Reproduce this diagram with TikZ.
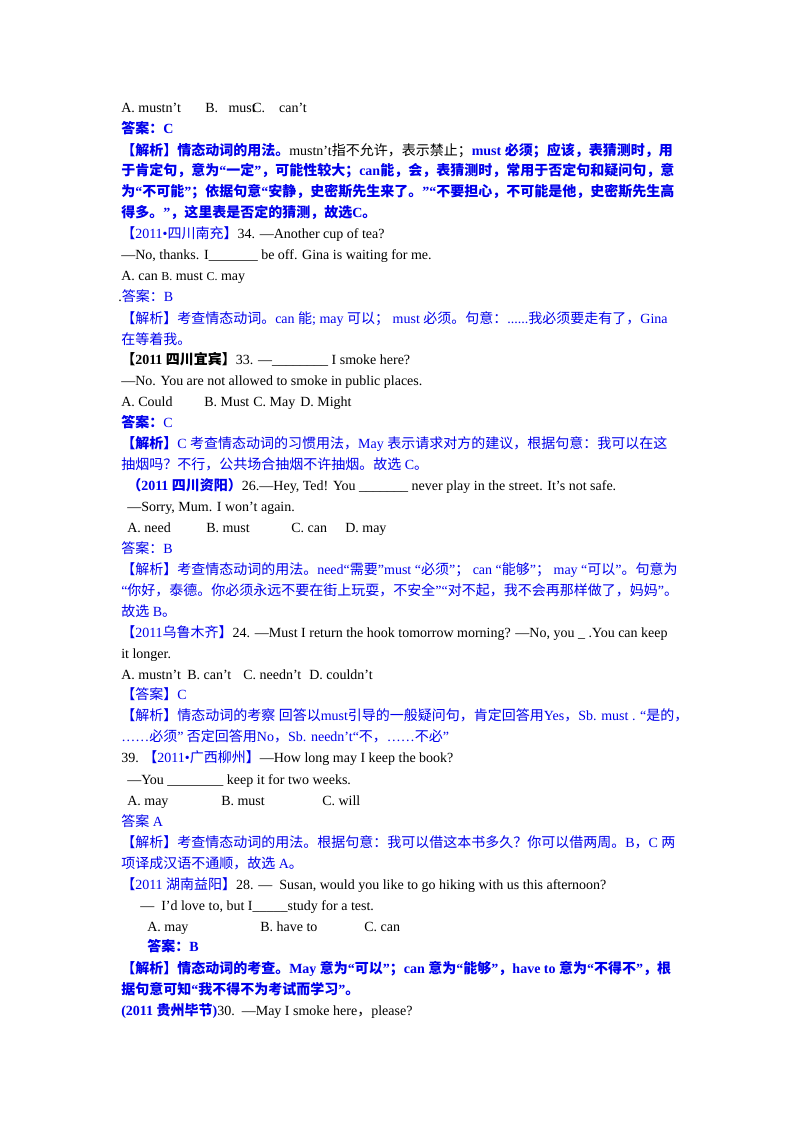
\documentclass[tikz,border=0pt]{standalone}
\usepackage{fontspec}
\setmainfont{Liberation Serif}
\newfontfamily\cjk{Noto Sans CJK SC}
\XeTeXinterchartokenstate=1
\newXeTeXintercharclass\cjkcls
\count255="3000 \loop \XeTeXcharclass\count255=\cjkcls \ifnum\count255<"303F \advance\count255 1 \repeat
\count255="4E00 \loop \XeTeXcharclass\count255=\cjkcls \ifnum\count255<"9FFF \advance\count255 1 \repeat
\count255="FF00 \loop \XeTeXcharclass\count255=\cjkcls \ifnum\count255<"FFEF \advance\count255 1 \repeat
\XeTeXinterchartoks 0 \cjkcls={\cjk}
\XeTeXinterchartoks 4095 \cjkcls={\cjk}
\XeTeXinterchartoks \cjkcls 0={\rmfamily}
\XeTeXinterchartoks \cjkcls 4095={\rmfamily}
\definecolor{bl}{RGB}{0,0,235}
\newcommand\bb[1]{{\color{bl}\bfseries #1}}
\newcommand\bn[1]{{\color{bl}#1}}
\begin{document}
\begin{tikzpicture}[x=0.75pt,y=-0.75pt,
  t/.style={anchor=base west,inner sep=0pt,font=\fontsize{10.5}{12}\selectfont}]
\fill[white] (0,0) rectangle (800,1132);
\useasboundingbox (0,0) rectangle (800,1132);
\node[t] (a1) at (121,112) {A. mustn’t};
\node[t] (a2) at (205,112) {B.\ \ \ must};
\node[t] (a3) at (252,112) {C.\ \ \ \ can’t};
\node[t] (l2) at (121,133) {\bb{答案：C}};
\node[t] (l3) at (121,155) {\bb{【解析】情态动词的用法。}mustn’t指不允许，表示禁止；\bb{must 必须；应该，表猜测时，用}};
\node[t] (l4) at (121,175) {\bb{于肯定句，意为“一定”，可能性较大；can能，会，表猜测时，常用于否定句和疑问句，意}};
\node[t] (l5) at (121,196) {\bb{为“不可能”；依据句意“安静，史密斯先生来了。”“不要担心，不可能是他，史密斯先生高}};
\node[t] (l6) at (121,217) {\bb{得多。”，这里表是否定的猜测，故选C。}};
\node[t] (l7) at (121,238) {\bn{【2011•四川南充】}34. —Another cup of tea?};
\node[t] (l8) at (121,259) {—No, thanks. I\_\_\_\_\_\_\_ be off. Gina is waiting for me.};
\node[t] (l9) at (121,280) {A. can {\small B.} must {\small C.} may};
\node[t] (l10) at (118,301) {.\bn{答案：B}};
\node[t] (l11) at (121,323) {\bn{【解析】考查情态动词。can 能; may 可以； must 必须。句意：......我必须要走有了，Gina}};
\node[t] (l12) at (121,344) {\bn{在等着我。}};
\node[t] (l13) at (121,364) {\textbf{【2011 四川宜宾】}33. —\_\_\_\_\_\_\_\_ I smoke here?};
\node[t] (l14) at (121,385) {—No. You are not allowed to smoke in public places.};
\node[t] (o1) at (121,406) {A. Could};
\node[t] (o2) at (204,406) {B. Must};
\node[t] (o3) at (253,406) {C. May};
\node[t] (o4) at (300,406) {D. Might};
\node[t] (l16) at (121,427) {\bn{\textbf{答案：}C}};
\node[t] (l17) at (121,448) {\bn{\textbf{【解析】}C 考查情态动词的习惯用法，May 表示请求对方的建议，根据句意：我可以在这}};
\node[t] (l18) at (121,469) {\bn{抽烟吗？不行，公共场合抽烟不许抽烟。故选 C。}};
\node[t] (l19) at (127,490) {\bb{（2011 四川资阳）}26.—Hey, Ted! You \_\_\_\_\_\_\_ never play in the street. It’s not safe.};
\node[t] (l20) at (127,511) {—Sorry, Mum. I won’t again.};
\node[t] (p1) at (127,532) {A. need};
\node[t] (p2) at (206,532) {B. must};
\node[t] (p3) at (291,532) {C. can};
\node[t] (p4) at (345,532) {D. may};
\node[t] (l22) at (121,553) {\bn{答案：B}};
\node[t] (l23) at (121,574) {\bn{【解析】考查情态动词的用法。need“需要”must “必须”； can “能够”； may “可以”。句意为}};
\node[t] (l24) at (121,595) {\bn{“你好，泰德。你必须永远不要在街上玩耍，不安全”“对不起，我不会再那样做了，妈妈”。}};
\node[t] (l25) at (121,616) {\bn{故选 B。}};
\node[t] (l26) at (121,637) {\bn{【2011乌鲁木齐】}24. —Must I return the hook tomorrow morning? —No, you \_ .You can keep};
\node[t] (l27) at (121,658) {it longer.};
\node[t] (q1) at (121,679) {A. mustn't};
\node[t] (q2) at (187,679) {B. can't};
\node[t] (q3) at (243,679) {C. needn't};
\node[t] (q4) at (309,679) {D. couldn't};
\node[t] (l29) at (121,699) {\bn{【答案】C}};
\node[t] (l30) at (121,720) {\bn{【解析】情态动词的考察 回答以must引导的一般疑问句，肯定回答用Yes，Sb. must . “是的，}};
\node[t] (l31) at (121,741) {\bn{……必须” 否定回答用No，Sb. needn’t“不，……不必”}};
\node[t] (l32) at (121,762) {39. \bn{【2011•广西柳州】}—How long may I keep the book?};
\node[t] (l33) at (127,784) {—You \_\_\_\_\_\_\_\_ keep it for two weeks.};
\node[t] (r1) at (127,805) {A. may};
\node[t] (r2) at (221,805) {B. must};
\node[t] (r3) at (322,805) {C. will};
\node[t] (l35) at (121,826) {\bn{答案 A}};
\node[t] (l36) at (121,847) {\bn{【解析】考查情态动词的用法。根据句意：我可以借这本书多久？你可以借两周。B，C 两}};
\node[t] (l37) at (121,868) {\bn{项译成汉语不通顺，故选 A。}};
\node[t] (l38) at (121,889) {\bn{【2011 湖南益阳】}28. —\ \ Susan, would you like to go hiking with us this afternoon?};
\node[t] (l39) at (140,910) {—\ \ I'd love to, but I\_\_\_\_\_study for a test.};
\node[t] (s1) at (147,931) {A. may};
\node[t] (s2) at (260,931) {B. have to};
\node[t] (s3) at (364,931) {C. can};
\node[t] (l41) at (147,951) {\bb{答案：B}};
\node[t] (l42) at (121,973) {\bb{【解析】情态动词的考查。May 意为“可以”；can 意为“能够”，have to 意为“不得不”，根}};
\node[t] (l43) at (121,994) {\bb{据句意可知“我不得不为考试而学习”。}};
\node[t] (l44) at (121,1015) {\bb{(2011 贵州毕节)}30.\ \ —May I smoke here，please?};
\end{tikzpicture}
\end{document}
